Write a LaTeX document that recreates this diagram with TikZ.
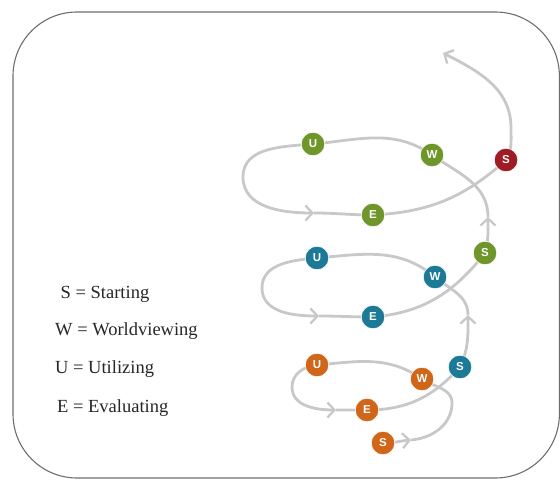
\documentclass[tikz,border=0pt]{standalone}
\usepackage{fontspec}
\setmainfont{Liberation Serif}
\newfontfamily\nodefont{Liberation Sans}
\usetikzlibrary{arrows.meta}
\pgfdeclarelayer{bg}
\pgfsetlayers{bg,main}
\definecolor{sgreen}{RGB}{110,150,42}
\definecolor{sblue}{RGB}{28,122,150}
\definecolor{sorange}{RGB}{208,102,26}
\definecolor{sred}{RGB}{160,28,36}
\definecolor{spath}{RGB}{200,200,200}
\definecolor{sframe}{RGB}{110,110,110}
\tikzset{
  stage/.style={circle, fill=#1, draw=white, line width=0.6pt, minimum size=23.5pt, inner sep=0pt,
    text=white, font=\nodefont\bfseries\fontsize{11.5}{11.5}\selectfont},
  spiral/.style={draw=spath, line width=2.8pt},
  tip/.style={-{Straight Barb[length=7pt,width=15pt,line width=2.3pt]}},
  legend/.style={anchor=base west, inner sep=0pt, text=black!85, font=\fontsize{18.5}{20}\selectfont},
}
\begin{document}
\begin{tikzpicture}[x=1pt,y=1pt]
\useasboundingbox (0,0) rectangle (560,480);
\draw[sframe, line width=1.1pt, rounded corners=64pt] (13,2) rectangle (559.4,468);

% stage nodes
\node[stage=sorange] (So) at (383,37) {S};
\node[stage=sorange] (Wo) at (422,101) {W};
\node[stage=sorange] (Uo) at (317,115) {U};
\node[stage=sorange] (Eo) at (367,70) {E};
\node[stage=sblue] (Sb) at (460,113) {S};
\node[stage=sblue] (Wb) at (435,203) {W};
\node[stage=sblue] (Ub) at (317,222) {U};
\node[stage=sblue] (Eb) at (373,163) {E};
\node[stage=sgreen] (Sg) at (485,227) {S};
\node[stage=sgreen] (Wg) at (432,325) {W};
\node[stage=sgreen] (Ug) at (313,336) {U};
\node[stage=sgreen] (Eg) at (373,265) {E};
\node[stage=sred] (Sr) at (506,320) {S};

% helper coordinates
\coordinate (a1) at (411,40);
\coordinate (ro) at (452,77);
\coordinate (lo) at (292,93);
\coordinate (bo) at (336,70);
\coordinate (a2) at (468,165);
\coordinate (lb) at (262,192);
\coordinate (bb) at (319,164);
\coordinate (a3) at (488,263);
\coordinate (lg) at (243,303);
\coordinate (bg) at (314,267);
\coordinate (tr) at (511,352);
\coordinate (top) at (443,427);

\begin{pgfonlayer}{bg}
% orange loop
\draw[spiral,tip] (So.center) to[out=0,in=185] (a1);
\draw[spiral] (a1) to[out=5,in=270] (ro) to[out=90,in=-35] (Wo.center)
  to[out=145,in=5] (Uo.center) to[out=185,in=90] (lo);
\draw[spiral,tip] (lo) to[out=270,in=180] (bo);
\draw[spiral] (bo) to[out=0,in=180] (Eo.center) to[out=0,in=228] (Sb.center);
% blue loop
\draw[spiral,tip] (Sb.center) to[out=65,in=270] (a2);
\draw[spiral] (a2) to[out=90,in=-40] (Wb.center)
  to[out=140,in=5] (Ub.center) to[out=185,in=90] (lb);
\draw[spiral,tip] (lb) to[out=270,in=180] (bb);
\draw[spiral] (bb) to[out=0,in=180] (Eb.center) to[out=5,in=232] (Sg.center);
% green loop
\draw[spiral,tip] (Sg.center) to[out=75,in=270] (a3);
\draw[spiral] (a3) to[out=90,in=-35] (Wg.center)
  to[out=145,in=5] (Ug.center) to[out=185,in=90] (lg);
\draw[spiral,tip] (lg) to[out=270,in=180] (bg);
\draw[spiral] (bg) to[out=0,in=180] (Eg.center) to[out=3,in=222] (Sr.center);
% final rise
\draw[spiral] (Sr.center) to[out=60,in=270] (tr);
\draw[spiral,tip] (tr) to[out=90,in=-27] (top);
\end{pgfonlayer}

% legend
\node[legend] (lS) at (60.5,181) {S = Starting};
\node[legend] (lW) at (55,145) {W = Worldviewing};
\node[legend] (lU) at (55,107) {U = Utilizing};
\node[legend] (lE) at (57,68) {E = Evaluating};
\end{tikzpicture}
\end{document}
